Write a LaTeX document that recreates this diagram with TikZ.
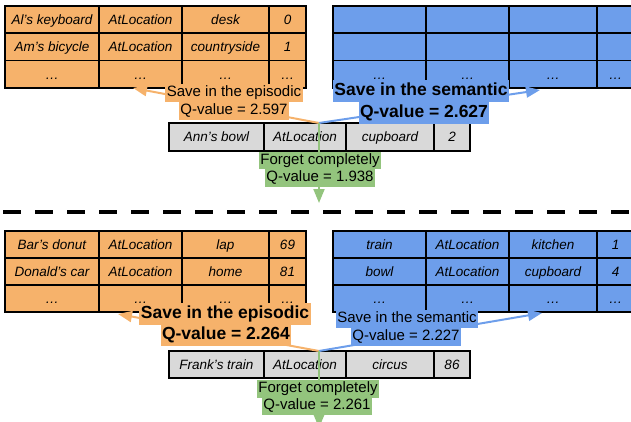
\documentclass[tikz,border=0pt]{standalone}
\usepackage{fontspec}
\setmainfont{Liberation Sans}
\usetikzlibrary{arrows.meta}
\definecolor{ofill}{HTML}{F6B26B}
\definecolor{bfill}{HTML}{6D9EEB}
\definecolor{gfill}{HTML}{D9D9D9}
\definecolor{grfill}{HTML}{93C47D}
\tikzset{
  cellbase/.style={draw=black, line width=1.6pt, inner sep=0pt, text height=13pt, text depth=3pt, font=\fontsize{13.5}{16}\selectfont\itshape},
  lab/.style={inner xsep=1.5pt, inner ysep=0.5pt, text height=12pt, text depth=4.5pt, font=\fontsize{15}{18}\selectfont},
  blab/.style={inner xsep=1.5pt, inner ysep=0.5pt, text height=15pt, text depth=6pt, font=\bfseries\fontsize{17.5}{21}\selectfont},
  conn/.style={line width=2pt, -{Triangle[length=14pt,width=11pt]}},
  sepline/.style={line width=4.5pt, dash pattern=on 18pt off 14pt},
}
\newcommand\setcols[5]{\def\colA{#1}\def\colB{#2}\def\colC{#3}\def\colD{#4}\def\colE{#5}}
\newcommand\trow[8]{%
  \node[cellbase,fill=#2,minimum width={(\colB-\colA)*1pt},minimum height={(#4-#3)*1pt}] (#1a) at ({(\colA+\colB)/2},{(#3+#4)/2}) {#5};
  \node[cellbase,fill=#2,minimum width={(\colC-\colB)*1pt},minimum height={(#4-#3)*1pt}] (#1b) at ({(\colB+\colC)/2},{(#3+#4)/2}) {#6};
  \node[cellbase,fill=#2,minimum width={(\colD-\colC)*1pt},minimum height={(#4-#3)*1pt}] (#1c) at ({(\colC+\colD)/2},{(#3+#4)/2}) {#7};
  \node[cellbase,fill=#2,minimum width={(\colE-\colD)*1pt},minimum height={(#4-#3)*1pt}] (#1d) at ({(\colD+\colE)/2},{(#3+#4)/2}) {#8};
}
\begin{document}
\begin{tikzpicture}[x=1pt,y=-1pt]
\useasboundingbox (0,0) rectangle (631,422);
\clip (0,0) rectangle (631,422);
% ---------- top half ----------
\setcols{5}{99}{182}{269}{306}
\trow{toa}{ofill}{6}{33.3}{Al's keyboard}{AtLocation}{desk}{0}
\trow{tob}{ofill}{33.3}{60.7}{Am's bicycle}{AtLocation}{countryside}{1}
\trow{toc}{ofill}{60.7}{88}{…}{…}{…}{…}
\setcols{333}{426}{509}{597}{634}
\trow{tba}{bfill}{6}{33.3}{}{}{}{}
\trow{tbb}{bfill}{33.3}{60.7}{}{}{}{}
\trow{tbc}{bfill}{60.7}{88}{…}{…}{…}{…}
\setcols{169}{264}{346}{434}{470}
\trow{tg}{gfill}{123}{151}{Ann's bowl}{AtLocation}{cupboard}{2}

\coordinate (jt) at (319,123);
\coordinate (tot) at (133,88);
\coordinate (tbt) at (540,90);
\coordinate (tgt) at (319,203);
\draw[conn, ofill] (jt) -- (tot);
\draw[conn, bfill] (jt) -- (tbt);
\draw[conn, grfill] (jt) -- (tgt);

\node[lab, fill=ofill] (tol1) at (234,93) {Save in the episodic};
\node[lab, fill=ofill] (tol2) at (234,111) {Q-value = 2.597};
\node[blab, fill=bfill] (tbl1) at (421,91) {Save in the semantic};
\node[blab, fill=bfill] (tbl2) at (424,113) {Q-value = 2.627};
\node[lab, fill=grfill] (tgl1) at (320,160.5) {Forget completely};
\node[lab, fill=grfill] (tgl2) at (320,178) {Q-value = 1.938};

% ---------- separator ----------
\coordinate (sepa) at (3,212);
\coordinate (sepb) at (631,212);
\draw[sepline] (sepa) -- (sepb);

% ---------- bottom half ----------
\setcols{5}{99}{182}{269}{306}
\trow{boa}{ofill}{231}{258}{Bar's donut}{AtLocation}{lap}{69}
\trow{bob}{ofill}{258}{285}{Donald's car}{AtLocation}{home}{81}
\trow{boc}{ofill}{285}{312}{…}{…}{…}{…}
\setcols{333}{426}{509}{597}{634}
\trow{bba}{bfill}{231}{258}{train}{AtLocation}{kitchen}{1}
\trow{bbb}{bfill}{258}{285}{bowl}{AtLocation}{cupboard}{4}
\trow{bbc}{bfill}{285}{312}{…}{…}{…}{…}
\setcols{169}{264}{346}{434}{470}
\trow{bg}{gfill}{351}{378}{Frank's train}{AtLocation}{circus}{86}

\coordinate (jb) at (319,351);
\coordinate (bot) at (118,314);
\coordinate (bbt) at (542,313);
\coordinate (bgt) at (319,428);
\draw[conn, ofill] (jb) -- (bot);
\draw[conn, bfill] (jb) -- (bbt);
\draw[conn, grfill] (jb) -- (bgt);

\node[blab, fill=ofill] (bol1) at (225,313.5) {Save in the episodic};
\node[blab, fill=ofill] (bol2) at (226,334.5) {Q-value = 2.264};
\node[lab, fill=bfill] (bbl1) at (407,319) {Save in the semantic};
\node[lab, fill=bfill] (bbl2) at (406,337) {Q-value = 2.227};
\node[lab, fill=grfill] (bgl1) at (318,389) {Forget completely};
\node[lab, fill=grfill] (bgl2) at (317,406) {Q-value = 2.261};
\end{tikzpicture}
\end{document}
